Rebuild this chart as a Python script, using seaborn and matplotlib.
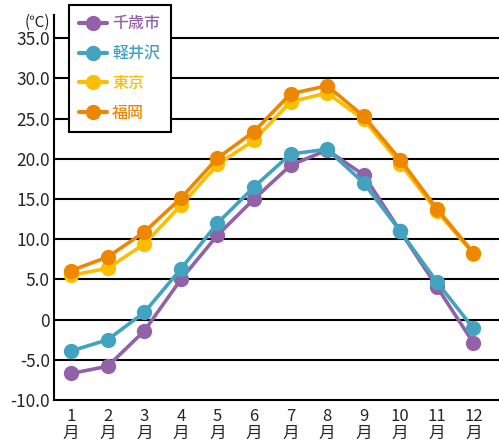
import numpy as np
import pandas as pd
import matplotlib
matplotlib.use("Agg")
import matplotlib.pyplot as plt
import seaborn as sns

months = list(range(1, 13))
month_labels = [f"{m}\n月" for m in months]
cities = ["千歳市", "軽井沢", "東京", "福岡"]
chitose = [-6.7, -5.8, -1.4, 5.0, 10.5, 15.0, 19.2, 21.1, 18.0, 11.0, 4.1, -2.9]
karuizawa = [-3.9, -2.5, 0.9, 6.3, 12.0, 16.5, 20.6, 21.2, 17.0, 11.0, 4.7, -1.1]
tokyo = [5.5, 6.4, 9.4, 14.2, 19.3, 22.3, 27.1, 28.2, 24.9, 19.4, 13.5, 8.2]
fukuoka = [6.1, 7.8, 10.9, 15.1, 20.1, 23.4, 28.1, 29.1, 25.3, 19.9, 13.8, 8.3]
colors = ["#9262a8", "#42a3c1", "#fbbe00", "#ee8700"]
yticks = [35, 30, 25, 20, 15, 10, 5, 0, -5, -10]
ytick_labels = ["35.0", "30.0", "25.0", "20.0", "15.0", "10.0", "5.0", "0", "-5.0", "-10.0"]

df = pd.DataFrame({
    "month": months * 4,
    "temp": chitose + karuizawa + tokyo + fukuoka,
    "city": np.repeat(cities, 12),
})

sns.set_style("white")
plt.rcParams["font.family"] = ["Noto Sans CJK JP", "DejaVu Sans"]

fig = plt.figure(figsize=(4.99, 4.46), dpi=100)
ax = fig.add_axes([54 / 499, 46 / 446, 445 / 499, 385 / 446])

for y in yticks[:-1]:
    ax.axhline(y, color="black", lw=1.5, zorder=0)

sns.lineplot(data=df, x="month", y="temp", hue="city", hue_order=cities,
             palette=colors, marker="o", markersize=11, markeredgewidth=0,
             linewidth=2.6, ax=ax, legend=False, zorder=3)

ax.set_xlim(0.53, 12.7)
ax.set_ylim(-10, 37.9)
ax.set_xticks(months)
ax.set_xticklabels(month_labels, fontsize=12, linespacing=0.95)
ax.set_yticks(yticks)
ax.set_yticklabels(ytick_labels, fontsize=12.5)
ax.tick_params(axis="x", direction="in", length=11, width=1.5, color="black", pad=6)
ax.tick_params(axis="y", length=0, pad=3)
ax.set_xlabel("")
ax.set_ylabel("")
for s in ["top", "right"]:
    ax.spines[s].set_visible(False)
for s in ["left", "bottom"]:
    ax.spines[s].set_color("black")
    ax.spines[s].set_linewidth(1.5)

fig.text(25 / 499, 1 - 22 / 446, "(℃)", fontsize=11, va="center", ha="left")

handles = [plt.Line2D([0], [0], color=c, lw=3, marker="o", markersize=11, markeredgewidth=0)
           for c in colors]
leg = ax.legend(handles, cities, loc="upper left", bbox_to_anchor=(69 / 499, 1 - 5 / 446),
                bbox_transform=fig.transFigure, fontsize=11.5, labelcolor=colors,
                frameon=True, fancybox=False, edgecolor="black", framealpha=1,
                handlelength=1.7, handletextpad=0.35, labelspacing=0.8,
                borderpad=0.65, borderaxespad=0)
leg.get_frame().set_linewidth(1.5)
for t in leg.get_texts():
    t.set_fontweight("medium")
leg.set_zorder(5)

fig.savefig("out.png", dpi=100)
